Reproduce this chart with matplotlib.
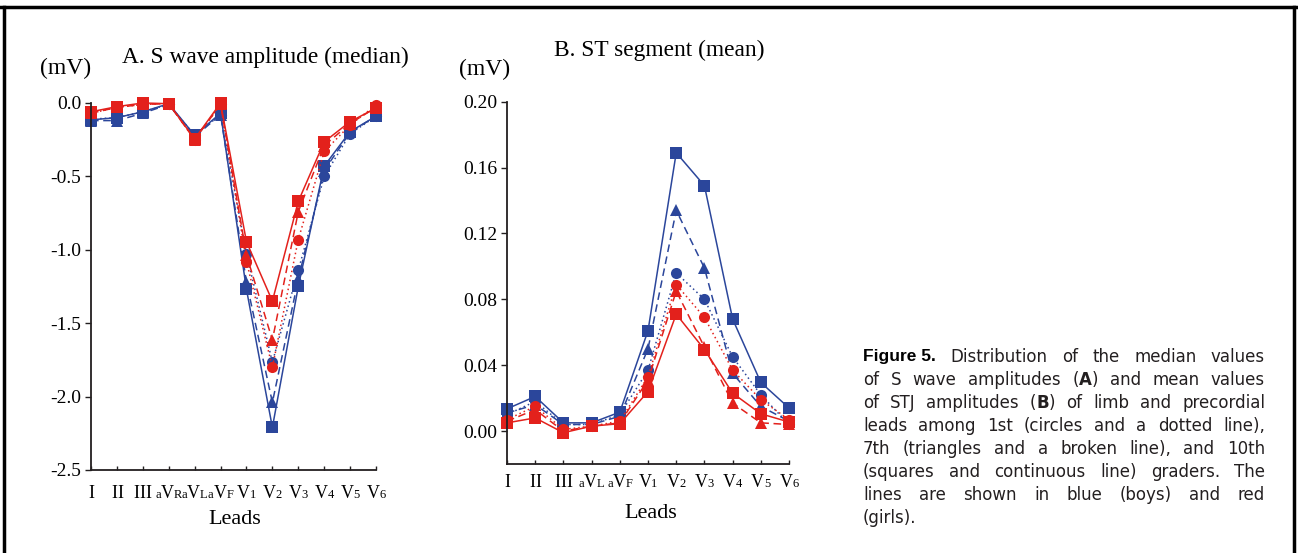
import matplotlib
matplotlib.use('Agg')
import matplotlib.pyplot as plt
from matplotlib.lines import Line2D
from matplotlib.offsetbox import TextArea, HPacker, AnnotationBbox

SERIF = 'Liberation Serif'
SANS = 'DejaVu Sans'
BLUE = '#2b469b'
RED = '#e3211c'
AXC = '#231f20'

# panel A: S wave amplitude (median), mV
leads_a = ['I', 'II', 'III', 'aVR', 'aVL', 'aVF', 'V1', 'V2', 'V3', 'V4', 'V5', 'V6']
s_boys_1st = [-0.11, -0.10, -0.06, -0.01, -0.22, -0.08, -1.03, -1.765, -1.14, -0.50, -0.21, -0.09]
s_boys_7th = [-0.12, -0.12, -0.07, -0.01, -0.23, -0.08, -1.22, -2.04, -1.20, -0.46, -0.20, -0.09]
s_boys_10th = [-0.115, -0.10, -0.06, -0.005, -0.22, -0.07, -1.27, -2.21, -1.25, -0.43, -0.195, -0.09]
s_girls_1st = [-0.07, -0.03, -0.01, -0.005, -0.25, -0.01, -1.08, -1.80, -0.93, -0.33, -0.15, -0.015]
s_girls_7th = [-0.07, -0.03, -0.01, -0.005, -0.25, -0.01, -1.035, -1.615, -0.74, -0.29, -0.14, -0.03]
s_girls_10th = [-0.06, -0.025, 0.0, -0.005, -0.245, 0.0, -0.945, -1.35, -0.67, -0.265, -0.127, -0.035]

# panel B: ST segment (mean), mV
leads_b = ['I', 'II', 'III', 'aVL', 'aVF', 'V1', 'V2', 'V3', 'V4', 'V5', 'V6']
st_boys_1st = [0.010, 0.018, 0.004, 0.004, 0.010, 0.037, 0.096, 0.080, 0.045, 0.022, 0.004]
st_boys_7th = [0.011, 0.016, 0.004, 0.004, 0.009, 0.050, 0.134, 0.099, 0.035, 0.015, 0.006]
st_boys_10th = [0.0135, 0.021, 0.005, 0.005, 0.0115, 0.061, 0.169, 0.149, 0.068, 0.0295, 0.014]
st_girls_1st = [0.007, 0.015, 0.001, 0.003, 0.006, 0.033, 0.089, 0.069, 0.037, 0.019, 0.007]
st_girls_7th = [0.006, 0.013, 0.0, 0.003, 0.005, 0.031, 0.085, 0.051, 0.017, 0.005, 0.004]
st_girls_10th = [0.005, 0.008, -0.001, 0.003, 0.0045, 0.024, 0.071, 0.0495, 0.023, 0.0105, 0.0055]

# marker, line style, marker size for 1st / 7th / 10th graders
styles = [('o', (0, (1, 2)), 8), ('^', (0, (5, 3)), 9), ('s', '-', 8.5)]

fig = plt.figure(figsize=(12.98, 5.53), dpi=100)


def lead_label(ax, x, name, yoff):
    # big I and V, the rest small (aVR, V1 ...)
    boxes = []
    for ch in name:
        size = 13 if ch in 'IV' else 9
        boxes.append(TextArea(ch, textprops=dict(fontfamily=SERIF, fontsize=size, color='black')))
    pk = HPacker(children=boxes, align='baseline', pad=0, sep=0)
    ab = AnnotationBbox(pk, (x, 0), xycoords=('data', 'axes fraction'), xybox=(0, -yoff),
                        boxcoords='offset points', box_alignment=(0.5, 1), frameon=False,
                        annotation_clip=False, pad=0)
    ax.add_artist(ab)


def draw_panel(ax, leads, boys, girls, ylim, yticks, yfmt, yoff):
    x = list(range(len(leads)))
    for series, color in ((boys, BLUE), (girls, RED)):
        for vals, (mk, ls, ms) in zip(series, styles):
            ax.plot(x, vals, color=color, linestyle=ls, linewidth=1.1,
                    marker=mk, markersize=ms, markeredgewidth=0, clip_on=False)
    ax.set_xlim(0, len(leads) - 1)
    ax.set_ylim(*ylim)
    ax.set_xticks(x)
    ax.set_xticklabels([])
    for xi, name in zip(x, leads):
        lead_label(ax, xi, name, yoff)
    ax.set_yticks(yticks)
    ax.set_yticklabels([yfmt % v for v in yticks], fontfamily=SERIF, fontsize=14)
    ax.tick_params(axis='x', direction='in', length=3, width=1, color=AXC)
    ax.tick_params(axis='y', direction='out', length=4, width=1, color=AXC, pad=3)
    for s in ('top', 'right'):
        ax.spines[s].set_visible(False)
    for s in ('left', 'bottom'):
        ax.spines[s].set_color(AXC)
        ax.spines[s].set_linewidth(1.3)


axa = fig.add_axes([0.0701, 0.1501, 0.2196, 0.6637])
draw_panel(axa, leads_a, [s_boys_1st, s_boys_7th, s_boys_10th],
           [s_girls_1st, s_girls_7th, s_girls_10th],
           (-2.5, 0.0), [0.0, -0.5, -1.0, -1.5, -2.0, -2.5], '%.1f', 10.5)
axb = fig.add_axes([0.3906, 0.1609, 0.2173, 0.6552])
draw_panel(axb, leads_b, [st_boys_1st, st_boys_7th, st_boys_10th],
           [st_girls_1st, st_girls_7th, st_girls_10th],
           (-0.02, 0.20), [0.0, 0.04, 0.08, 0.12, 0.16, 0.20], '%.2f', 7.5)

W, H = 1298.0, 553.0


def ftext(x, y, s, **kw):
    return fig.text(x / W, 1 - y / H, s, ha='center', va='center', **kw)


ftext(265, 57, 'A. S wave amplitude (median)', fontfamily=SERIF, fontsize=16.8)
ftext(66, 68, '(mV)', fontfamily=SERIF, fontsize=17)
ftext(659, 50, 'B. ST segment (mean)', fontfamily=SERIF, fontsize=16.8)
ftext(485, 69, '(mV)', fontfamily=SERIF, fontsize=17)
ftext(235, 520, 'Leads', fontfamily=SERIF, fontsize=16)
ftext(651, 513, 'Leads', fontfamily=SERIF, fontsize=16)

# frame
fig.add_artist(Line2D([0, 1], [1 - 6.5 / H] * 2, color='black', lw=2.5, transform=fig.transFigure))
fig.add_artist(Line2D([4 / W] * 2, [0, 1 - 6.5 / H], color='black', lw=2.5, transform=fig.transFigure))
fig.add_artist(Line2D([1294 / W] * 2, [0, 1 - 6.5 / H], color='black', lw=2.5, transform=fig.transFigure))

# justified caption, |..| marks bold
caption = [
    '|Figure 5.| Distribution of the median values',
    'of S wave amplitudes (|A|) and mean values',
    'of STJ amplitudes (|B|) of limb and precordial',
    'leads among 1st (circles and a dotted line),',
    '7th (triangles and a broken line), and 10th',
    '(squares and continuous line) graders. The',
    'lines are shown in blue (boys) and red',
    '(girls).',
]


def parse(line):
    words = []
    if line.startswith('|Figure 5.|'):
        words.append([('Figure 5.', 'fig')])
        line = line[len('|Figure 5.| '):]
    for w in line.split(' '):
        parts = []
        for i, p in enumerate(w.split('|')):
            if p:
                parts.append((p, 'bold' if i % 2 else 'normal'))
        words.append(parts)
    return words


renderer = fig.canvas.get_renderer()
x0, x1 = 863.0, 1265.0
y_first = 357.0
dy = 23.0
fs = 12.0
sp = fig.text(0, 0, 'a a', fontsize=fs, fontfamily=SANS)
sq = fig.text(0, 0, 'aa', fontsize=fs, fontfamily=SANS)
space_w = sp.get_window_extent(renderer).width - sq.get_window_extent(renderer).width
sp.remove()
sq.remove()

for li, line in enumerate(caption):
    words = parse(line)
    y = 1 - (y_first + li * dy) / H
    placed = []
    total = 0.0
    for word in words:
        wparts = []
        for txt, wt in word:
            kw = dict(fontsize=fs, va='center', ha='left', color='#231f20', fontfamily=SANS)
            if wt == 'fig':
                kw.update(fontfamily='Liberation Sans', fontweight='heavy', fontsize=12.5,
                          color='black')
            else:
                kw.update(fontweight=wt)
            t = fig.text(0, y, txt, **kw)
            w = t.get_window_extent(renderer).width
            wparts.append((t, w))
            total += w
        placed.append(wparts)
    n = len(placed)
    if li == len(caption) - 1:
        gap = space_w
    else:
        gap = (x1 - x0 - total) / (n - 1)
    x = x0
    for wparts in placed:
        for t, w in wparts:
            t.set_x(x / W)
            x += w
        x += gap

fig.savefig('out.png', dpi=100)
